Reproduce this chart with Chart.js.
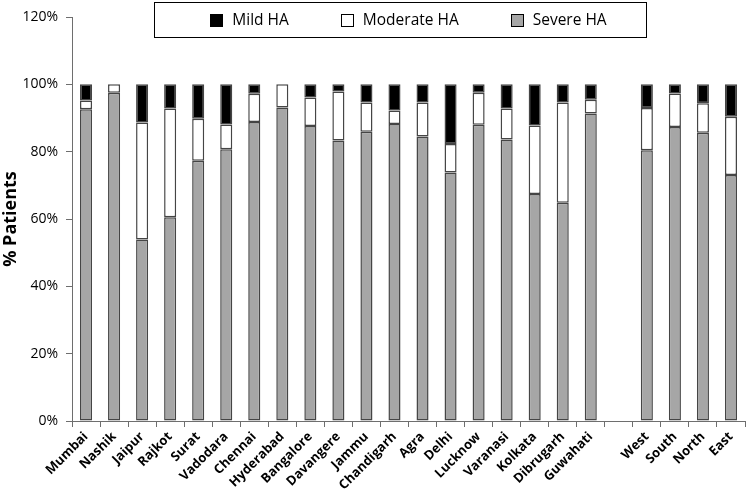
<!DOCTYPE html>
<html>
<head>
<meta charset="utf-8">
<script src="https://cdn.jsdelivr.net/npm/chart.js@4/dist/chart.umd.min.js"></script>
<style>
  html, body { margin: 0; padding: 0; background: #fff; }
  #wrap { width: 750px; height: 494px; }
</style>
</head>
<body>
<div id="wrap"><canvas id="haChart"></canvas></div>
<script>
// Categories (empty one is the gap between cities and regions)
const categories = ['Mumbai', 'Nashik', 'Jaipur', 'Rajkot', 'Surat', 'Vadodara', 'Chennai',
    'Hyderabad', 'Bangalore', 'Davangere', 'Jammu', 'Chandigarh', 'Agra', 'Delhi', 'Lucknow',
    'Varanasi', 'Kolkata', 'Dibrugarh', 'Guwahati', '', 'West', 'South', 'North', 'East'];

// % patients per severity
const severeHA = [92.6, 97.5, 53.9, 60.5, 77.3, 80.7, 88.8, 93.1, 87.6, 83.3, 85.9, 88.2,
    84.5, 73.8, 88.0, 83.6, 67.4, 64.8, 91.3, null, 80.4, 87.3, 85.6, 73.1];
const moderateHA = [2.6, 2.5, 34.8, 32.3, 12.5, 7.4, 8.4, 6.9, 8.5, 14.6, 8.7, 4.0,
    10.1, 8.5, 9.5, 9.2, 20.4, 29.8, 4.1, null, 12.6, 10.0, 8.8, 17.3];
const mildHA = [4.8, 0, 11.3, 7.2, 10.2, 11.9, 2.8, 0, 3.9, 2.1, 5.4, 7.8,
    5.4, 17.7, 2.5, 7.2, 12.2, 5.4, 4.6, null, 7.0, 2.7, 5.6, 9.6];

const yTicks = [0, 20, 40, 60, 80, 100, 120];

const FONT = "'Open Sans', 'DejaVu Sans', sans-serif";
const AXIS_COLOR = '#6e6e6e';
const EDGE = '#454545';

// Boxed legend drawn across the top, centred on the plot area
const boxedLegend = {
    id: 'boxedLegend',
    afterDraw(chart) {
        const ctx = chart.ctx;
        const items = chart.data.datasets.slice().reverse();
        const sq = 12, gapText = 10, gapItem = 52;
        ctx.save();
        ctx.font = '15.5px ' + FONT;
        const widths = items.map(d => ctx.measureText(d.label).width);
        let total = 0;
        widths.forEach((w, i) => { total += sq + gapText + w + (i < widths.length - 1 ? gapItem : 0); });
        const area = chart.chartArea;
        const cx = (area.left + area.right) / 2;
        let x = cx - total / 2;
        const midY = 20;

        // outer box
        ctx.strokeStyle = '#000';
        ctx.lineWidth = 1;
        ctx.fillStyle = '#fff';
        ctx.fillRect(154.5, 2.5, 492, 35);
        ctx.strokeRect(154.5, 2.5, 492, 35);

        items.forEach((d, i) => {
            const sx = Math.round(x) + 0.5, sy = Math.round(midY - sq / 2) + 0.5;
            ctx.fillStyle = d.backgroundColor;
            ctx.fillRect(sx, sy, sq, sq);
            ctx.strokeStyle = '#000';
            ctx.strokeRect(sx, sy, sq, sq);
            ctx.fillStyle = '#000';
            ctx.textBaseline = 'middle';
            ctx.textAlign = 'left';
            ctx.fillText(d.label, x + sq + gapText, midY + 1);
            x += sq + gapText + widths[i] + gapItem;
        });
        ctx.restore();
    }
};

const ctx = document.getElementById('haChart');
new Chart(ctx, {
    type: 'bar',
    data: {
        labels: categories,
        datasets: [
            {
                label: 'Severe HA',
                data: severeHA,
                backgroundColor: '#a6a6a6',
                borderColor: EDGE,
                borderWidth: 1.5,
                borderSkipped: false
            },
            {
                label: 'Moderate HA',
                data: moderateHA,
                backgroundColor: '#ffffff',
                borderColor: EDGE,
                borderWidth: 1.5,
                borderSkipped: false
            },
            {
                label: 'Mild HA',
                data: mildHA,
                backgroundColor: '#000000',
                borderColor: EDGE,
                borderWidth: 1.5,
                borderSkipped: false
            }
        ]
    },
    options: {
        responsive: true,
        maintainAspectRatio: false,
        animation: false,
        categoryPercentage: 1,
        barPercentage: 0.43,
        layout: { padding: { top: 17, right: 5, left: 0, bottom: 0 } },
        plugins: {
            legend: { display: false },
            tooltip: { enabled: false }
        },
        scales: {
            x: {
                stacked: true,
                offset: true,
                grid: {
                    offset: true,
                    drawOnChartArea: false,
                    drawTicks: true,
                    tickLength: 6,
                    color: AXIS_COLOR
                },
                border: { display: true, color: AXIS_COLOR, width: 1 },
                ticks: {
                    autoSkip: false,
                    maxRotation: 45,
                    minRotation: 45,
                    padding: 2,
                    color: '#000',
                    font: { family: FONT, size: 13, weight: 'bold' }
                },
                afterFit(scale) { scale.height = 73; }
            },
            y: {
                stacked: true,
                min: 0,
                max: 120,
                afterBuildTicks(scale) {
                    scale.ticks = yTicks.map(v => ({ value: v }));
                },
                grid: {
                    drawOnChartArea: false,
                    drawTicks: true,
                    tickLength: 6,
                    color: AXIS_COLOR
                },
                border: { display: true, color: AXIS_COLOR, width: 1 },
                ticks: {
                    padding: 8,
                    color: '#000',
                    font: { family: FONT, size: 14 },
                    callback: v => v + '%'
                },
                title: {
                    display: true,
                    text: '% Patients',
                    color: '#000',
                    padding: { top: 0, bottom: 0 },
                    font: { family: FONT, size: 18, weight: 'bold' }
                },
                afterFit(scale) { scale.width = 72; }
            }
        }
    },
    plugins: [boxedLegend]
});
</script>
</body>
</html>
